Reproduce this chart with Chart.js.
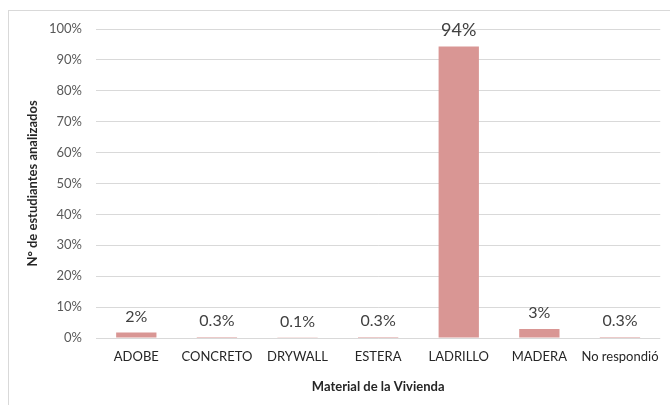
<!DOCTYPE html>
<html lang="es">
  <head>
    <meta charset="UTF-8" />
    <title>Material de la Vivienda</title>
    <style>
      * {
        box-sizing: border-box;
        margin: 0;
        padding: 0;
      }
      body {
        width: 670px;
        height: 405px;
        background-color: white;
        position: relative;
        overflow: hidden;
      }
      .frame {
        position: absolute;
        left: 8px;
        top: 10px;
        width: 700px;
        height: 420px;
        border: 1px solid #d9d9d9;
      }
      #materialChart {
        position: absolute;
        left: 0;
        top: 0;
      }
    </style>
  </head>
  <body>
    <div class="frame"></div>
    <canvas id="materialChart" width="670" height="405"></canvas>

    <script src="https://cdn.jsdelivr.net/npm/chart.js"></script>
    <script>
      const categories = [
        "ADOBE",
        "CONCRETO",
        "DRYWALL",
        "ESTERA",
        "LADRILLO",
        "MADERA",
        "No respondió",
      ];
      const values = [1.8, 0.3, 0.1, 0.3, 94.3, 2.9, 0.3];
      const valueLabels = ["2%", "0.3%", "0.1%", "0.3%", "94%", "3%", "0.3%"];
      const yTicks = [0, 10, 20, 30, 40, 50, 60, 70, 80, 90, 100];

      const fontFamily = "Lato, 'Liberation Sans', sans-serif";

      // etiquetas encima de cada barra
      const valueLabelPlugin = {
        id: "valueLabels",
        afterDatasetsDraw(chart) {
          const ctx = chart.ctx;
          const meta = chart.getDatasetMeta(0);
          ctx.save();
          ctx.fillStyle = "#404040";
          ctx.textAlign = "center";
          ctx.textBaseline = "middle";
          meta.data.forEach((bar, i) => {
            const size = values[i] > 50 ? 18 : 16;
            ctx.font = size + "px " + fontFamily;
            ctx.fillText(valueLabels[i], bar.x, bar.y - 16);
          });
          ctx.restore();
        },
      };

      new Chart(document.getElementById("materialChart"), {
        type: "bar",
        data: {
          labels: categories,
          datasets: [
            {
              data: values,
              backgroundColor: "#d99694",
              barPercentage: 1,
              categoryPercentage: 0.5,
            },
          ],
        },
        options: {
          responsive: false,
          animation: false,
          layout: {
            padding: { top: 29, right: 7, bottom: 0, left: 0 },
          },
          plugins: {
            legend: { display: false },
            tooltip: { enabled: false },
          },
          scales: {
            y: {
              min: 0,
              max: 100,
              afterBuildTicks(scale) {
                scale.ticks = yTicks.map((v) => ({ value: v }));
              },
              afterFit(scale) {
                scale.width = 96;
              },
              grid: {
                color: "#d9d9d9",
                lineWidth: 1,
                drawTicks: false,
              },
              border: { display: false },
              ticks: {
                padding: 14,
                color: "#595959",
                font: { family: fontFamily, size: 13 },
                callback: (v) => v + "%",
              },
              title: {
                display: true,
                text: "N° de estudiantes analizados",
                color: "#262626",
                font: { family: fontFamily, size: 13, weight: "bold" },
                padding: { top: 25, bottom: 0 },
              },
            },
            x: {
              afterFit(scale) {
                scale.height = 67;
              },
              grid: { display: false, drawTicks: false },
              border: { display: false },
              ticks: {
                padding: 11,
                color: "#262626",
                maxRotation: 0,
                autoSkip: false,
                font: { family: fontFamily, size: 13 },
              },
              title: {
                display: true,
                text: "Material de la Vivienda",
                color: "#262626",
                font: { family: fontFamily, size: 13, weight: "bold" },
                padding: { top: 0, bottom: 10 },
              },
            },
          },
        },
        plugins: [valueLabelPlugin],
      });
    </script>
  </body>
</html>
